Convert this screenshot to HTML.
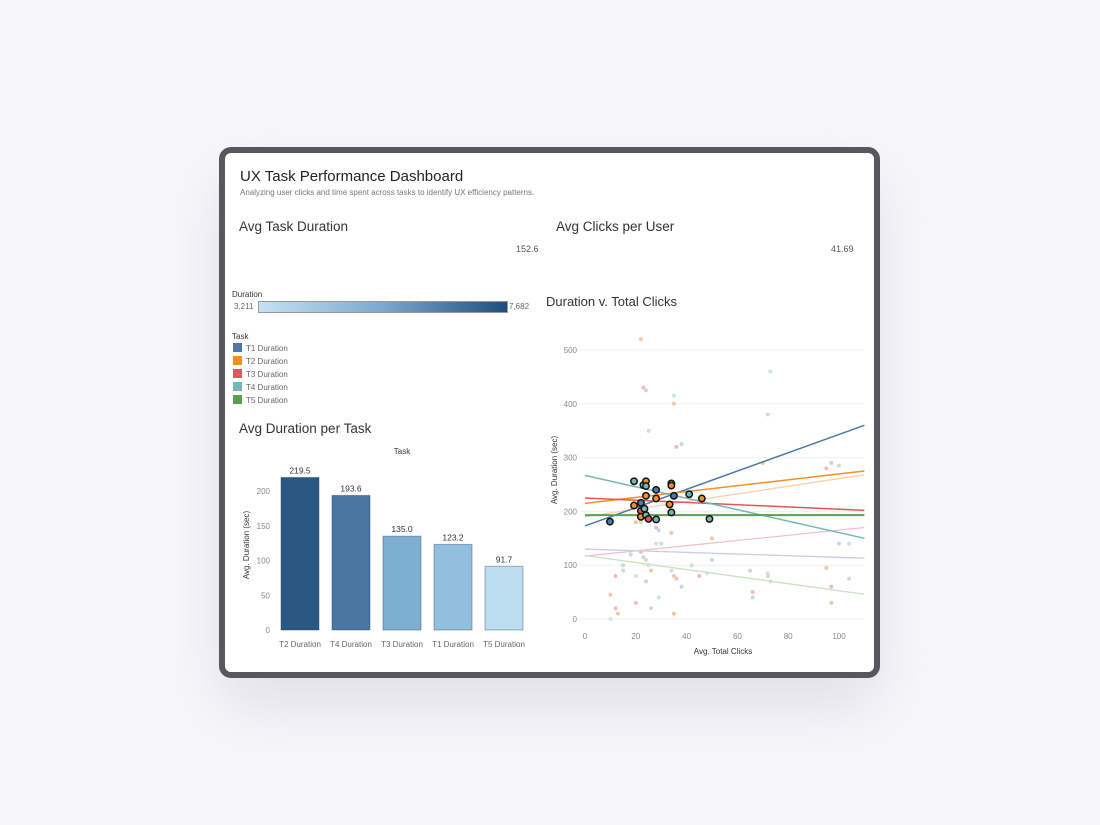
<!DOCTYPE html>
<html><head><meta charset="utf-8"><style>
body{margin:0;width:1100px;height:825px;background:#f7f7fb;font-family:"Liberation Sans",sans-serif;overflow:hidden;position:relative}
.frame{position:absolute;left:219px;top:147px;width:649px;height:519px;border:6px solid #58585c;border-radius:12px;background:#fff;box-shadow:0 30px 60px rgba(120,120,150,0.18)}
.t{position:absolute;color:#333;white-space:nowrap}
</style></head><body>
<div class="frame"></div>
<div class="t" style="left:240px;top:168px;font-size:15px;color:#222">UX Task Performance Dashboard</div>
<div class="t" style="left:240px;top:188px;font-size:8px;color:#777">Analyzing user clicks and time spent across tasks to identify UX efficiency patterns.</div>
<div class="t" style="left:239px;top:219px;font-size:13.5px">Avg Task Duration</div>
<div class="t" style="left:516px;top:244px;font-size:9px;color:#555">152.6</div>
<div class="t" style="left:556px;top:219px;font-size:13.5px">Avg Clicks per User</div>
<div class="t" style="left:831px;top:244px;font-size:9px;color:#555">41.69</div>
<div class="t" style="left:232px;top:290px;font-size:8px">Duration</div>
<div class="t" style="left:234px;top:302px;font-size:8px;color:#666">3,211</div>
<div style="position:absolute;left:258px;top:301px;width:248px;height:10px;border:1px solid #999;background:linear-gradient(to right,#c4e2f2,#7aa8cf,#1f4e7e)"></div>
<div class="t" style="left:509px;top:302px;font-size:8px;color:#666">7,682</div>
<div class="t" style="left:232px;top:332px;font-size:8px">Task</div>
<div id="leg"></div>
<div class="t" style="left:239px;top:421px;font-size:13.5px">Avg Duration per Task</div>
<div class="t" style="left:546px;top:294px;font-size:13px">Duration v. Total Clicks</div>
<svg id="bar" width="1100" height="825" style="position:absolute;left:0;top:0"></svg>
<script>
const legendNames=["T1 Duration","T2 Duration","T3 Duration","T4 Duration","T5 Duration"];
const legendColors=["#4e79a7","#f28e2b","#e15759","#76b7b2","#59a14f"];
const leg=document.getElementById('leg');
legendNames.forEach((n,i)=>{const d=document.createElement('div');d.className='t';


d.style.cssText=`left:233px;top:${343+i*13}px;font-size:8px;color:#666`;
d.innerHTML=`<span style="display:inline-block;width:9px;height:9px;background:${legendColors[i]};vertical-align:-1px;margin-right:4px"></span>${n}`;leg.appendChild(d);});

const categories=["T2 Duration","T4 Duration","T3 Duration","T1 Duration","T5 Duration"];
const values=[219.5,193.6,135.0,123.2,91.7];
const barColors=["#2b5783","#4a76a3","#7eaed2","#93bfdf","#bcdcf0"];
const yTicks=[0,50,100,150,200];
const NS="http://www.w3.org/2000/svg";
const svg=document.getElementById('bar');
function el(t,a,txt){const e=document.createElementNS(NS,t);for(const k in a)e.setAttribute(k,a[k]);if(txt!==undefined)e.textContent=txt;svg.appendChild(e);return e;}
const by=v=>630-v*0.695, bx=i=>300+i*51;
yTicks.forEach(v=>{const e=el('text',{x:270,y:by(v)+3,'font-size':8,fill:'#888','text-anchor':'end'},v);

});
let ya=el('text',{x:0,y:0,'font-size':8,fill:'#333','text-anchor':'middle',transform:'translate(249,545) rotate(-90)'},'Avg. Duration (sec)');


let tt=el('text',{x:402,y:454,'font-size':8,fill:'#333','text-anchor':'middle'},'Task');


categories.forEach((c,i)=>{
 const r=el('rect',{x:bx(i)-19,y:by(values[i]),width:38,height:values[i]*0.695,fill:barColors[i],stroke:'#1f3f66','stroke-opacity':0.4});
 
 
 const l=el('text',{x:bx(i),y:by(values[i])-4,'font-size':8.5,fill:'#333','text-anchor':'middle'},values[i].toFixed(1));
 
 
 const x=el('text',{x:bx(i),y:647,'font-size':8,fill:'#666','text-anchor':'middle'},c);
 
 
});

// scatter
const sxTicks=[0,20,40,60,80,100];
const syTicks=[0,100,200,300,400,500];
const hiX=[9.8,19.3,19.3,22,22,22,23,24,24,24,23.4,24,25,28,28,28,33.3,34,34,34,35,41,46,49];
const hiY=[181,256,211,216,201,190,249,256,247,229,205,193,186,240,224,185,213,252,248,198,229,232,224,186];
const hiTask=[0,3,1,0,2,1,3,1,3,1,3,3,2,0,1,3,1,3,1,3,0,3,1,3];
const faintX=[22,23,24,25,35,35,36,38,72,73,70,95,97,100,104,10,12,15,15,20,20,22,23,24,25,26,28,29,30,34,35,36,38,42,48,50,66,66,72,73,95,97,100,104,10,13,20,24,26,29,35,45,50,65,72,97,12,18,22,28,34];
const faintY=[520,430,425,350,415,400,320,325,380,460,290,280,290,285,140,45,20,100,90,80,180,125,115,110,100,90,170,165,140,90,80,75,60,100,85,150,50,40,80,70,95,60,140,75,0,10,30,70,20,40,10,80,110,90,85,30,80,120,180,140,160];
const faintColors=["#f4c7a0","#f6b8c0","#c8d6e6","#c9e3c5","#cbe6e3"];
const trendTask=[0,1,2,3,4];
const trendY0=[173,215,225,267,193];
const trendY1=[360,275,202,150,193];
const faintTrendY0=[117,130,118,190];
const faintTrendY1=[170,113,46,268];
const faintTrendColors=["#f3bfd0","#c8cde3","#c8e3c2","#f7d2b0"];
const sx=v=>585+v*2.54, sy=v=>619-v*0.538;
syTicks.forEach(v=>{el('line',{x1:580,x2:864,y1:sy(v),y2:sy(v),stroke:'#f0f0f0'});
 const t=el('text',{x:577,y:sy(v)+3,'font-size':8,fill:'#888','text-anchor':'end'},v);
 
 });
sxTicks.forEach(v=>{const t=el('text',{x:sx(v),y:639,'font-size':8,fill:'#888','text-anchor':'middle'},v);
 
 });
let sxa=el('text',{x:723,y:654,'font-size':8,fill:'#333','text-anchor':'middle'},'Avg. Total Clicks');


let sya=el('text',{x:0,y:0,'font-size':8,fill:'#333','text-anchor':'middle',transform:'translate(557,470) rotate(-90)'},'Avg. Duration (sec)');


faintX.forEach((x,i)=>{const c=el('circle',{cx:sx(x),cy:sy(faintY[i]),r:2,fill:faintColors[i%5]});
 
 });
faintTrendY0.forEach((y,i)=>{const l=el('line',{x1:sx(0),y1:sy(y),x2:sx(110),y2:sy(faintTrendY1[i]),stroke:faintTrendColors[i],'stroke-width':1.3});
 
 });
trendTask.forEach((t,i)=>{const l=el('line',{x1:sx(0),y1:sy(trendY0[i]),x2:sx(110),y2:sy(trendY1[i]),stroke:legendColors[t],'stroke-width':t==4?2:1.5});
 
 });
hiX.forEach((x,i)=>{const c=el('circle',{cx:sx(x),cy:sy(hiY[i]),r:3.2,fill:legendColors[hiTask[i]],stroke:'#111','stroke-width':1.5});
 
 });
</script>
</body></html>
